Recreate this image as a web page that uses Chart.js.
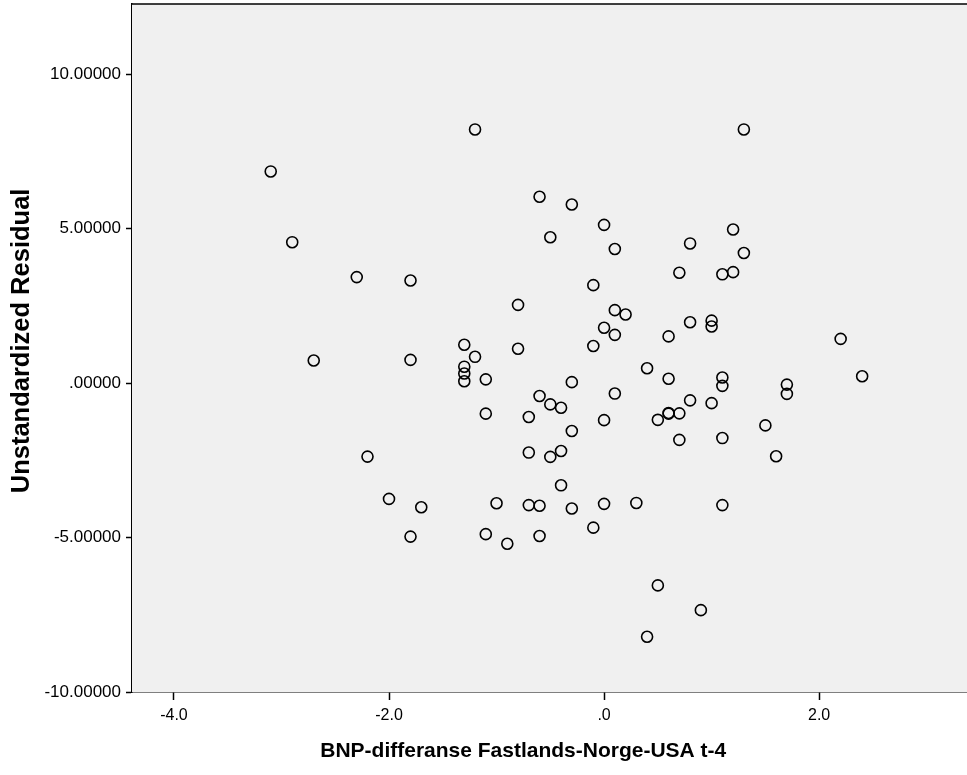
<!DOCTYPE html>
<html>
<head>
<meta charset="utf-8">
<script src="https://cdn.jsdelivr.net/npm/chart.js@4/dist/chart.umd.min.js"></script>
<style>
  html, body { margin: 0; padding: 0; background: #fff; overflow: hidden; }
  #wrap { width: 967px; height: 775px; }
</style>
</head>
<body>
<div id="wrap"><canvas id="scatter"></canvas></div>
<script>
// BNP-differanse (x) vs residual (y)
const xValues = [
    -3.1, -2.9, -2.3, -1.8, -2.7, -1.8, -2.2, -2.0, -1.7, -1.8,
    -1.2, -1.3, -1.2, -1.3, -1.3, -1.3, -1.1, -1.1, -1.1, -1.0,
    -0.9, -0.8, -0.8, -0.7, -0.7, -0.7, -0.6, -0.6, -0.6, -0.6,
    -0.5, -0.5, -0.5, -0.4, -0.4, -0.4, -0.3, -0.3, -0.3, -0.3,
    -0.1, -0.1, -0.1, 0.0, 0.0, 0.0, 0.0, 0.1, 0.1, 0.1,
    0.1, 0.2, 0.3, 0.4, 0.4, 0.5, 0.5, 0.6, 0.6, 0.6,
    0.6, 0.7, 0.7, 0.7, 0.8, 0.8, 0.8, 0.9, 1.0, 1.0,
    1.0, 1.1, 1.1, 1.1, 1.1, 1.1, 1.2, 1.2, 1.3, 1.3,
    1.5, 1.6, 1.7, 1.7, 2.2, 2.4
];
const residuals = [
    6.85, 4.56, 3.43, 3.32, 0.73, 0.75, -2.38, -3.75, -4.02, -4.97,
    8.21, 1.24, 0.85, 0.53, 0.31, 0.06, 0.12, -0.99, -4.89, -3.89,
    -5.20, 2.53, 1.11, -1.10, -2.25, -3.95, 6.03, -0.42, -3.97, -4.95,
    4.72, -0.69, -2.39, -0.80, -2.20, -3.31, 5.78, 0.03, -1.55, -4.06,
    3.17, 1.20, -4.68, 5.12, 1.79, -1.20, -3.91, 4.34, 2.36, 1.56,
    -0.34, 2.22, -3.88, 0.48, -8.21, -1.19, -6.55, 1.51, 0.14, -0.99,
    -0.97, 3.57, -0.98, -1.84, 4.52, 1.97, -0.56, -7.35, 2.02, 1.83,
    -0.65, 3.52, 0.18, -0.09, -1.78, -3.95, 4.97, 3.59, 8.21, 4.21,
    -1.37, -2.37, -0.05, -0.35, 1.43, 0.22
];

const xTicks = [-4, -2, 0, 2];
const xTickLabels = ['-4.0', '-2.0', '.0', '2.0'];
const yTicks = [-10, -5, 0, 5, 10];
const yTickLabels = ['-10.00000', '-5.00000', '.00000', '5.00000', '10.00000'];

const xTitle = 'BNP-differanse Fastlands-Norge-USA t-4';
const yTitle = 'Unstandardized Residual';

const points = xValues.map((x, i) => ({ x: x, y: residuals[i] }));

// grey plot area + top frame line
const plotFrame = {
    id: 'plotFrame',
    beforeDatasetsDraw(chart) {
        const { ctx, chartArea: a } = chart;
        ctx.save();
        ctx.fillStyle = '#f0f0f0';
        ctx.fillRect(a.left, a.top, a.right - a.left, a.bottom - a.top);
        ctx.strokeStyle = '#000';
        ctx.lineWidth = 1.5;
        ctx.beginPath();
        ctx.moveTo(a.left, a.top);
        ctx.lineTo(a.right, a.top);
        ctx.stroke();
        ctx.restore();
    }
};

// the titles in the picture sit a bit off the plot centre
const xTitleShift = '\u00a0'.repeat(9);
const yTitleShift = '\u00a0'.repeat(2);

document.addEventListener('DOMContentLoaded', () => {
    const ctx = document.getElementById('scatter')?.getContext('2d');

    if (!ctx) return;

    const data = {
        datasets: [{
            label: 'Residual',
            data: points,
            pointStyle: 'circle',
            pointRadius: 5.5,
            pointBorderWidth: 1.6,
            borderColor: '#000',
            backgroundColor: 'rgba(0,0,0,0)'
        }]
    };

    const config = {
        type: 'scatter',
        data: data,
        plugins: [plotFrame],
        options: {
            responsive: true,
            maintainAspectRatio: false,
            animation: false,
            layout: { autoPadding: false, padding: { top: 4, right: 0, left: 0, bottom: 0 } },
            plugins: {
                legend: { display: false },
                tooltip: { enabled: false }
            },
            scales: {
                x: {
                    type: 'linear',
                    min: -4.39,
                    max: 3.375,
                    afterBuildTicks: (scale) => {
                        scale.ticks = xTicks.map(v => ({ value: v }));
                    },
                    afterFit: (scale) => {
                        scale.height = 83;
                        scale.paddingLeft = 0;
                        scale.paddingRight = 0;
                    },
                    ticks: {
                        color: '#000',
                        padding: 6,
                        maxRotation: 0,
                        font: { family: 'Liberation Sans, Arial, sans-serif', size: 16 },
                        callback: (v) => xTickLabels[xTicks.indexOf(v)]
                    },
                    grid: {
                        drawOnChartArea: false,
                        drawTicks: true,
                        tickLength: 8,
                        tickColor: '#000',
                        tickWidth: 1.5
                    },
                    border: { display: true, color: '#000', width: 1.5 },
                    title: {
                        display: true,
                        text: xTitle + xTitleShift,
                        color: '#000',
                        padding: { top: 0, bottom: 11 },
                        font: { family: 'Liberation Sans, Arial, sans-serif', size: 21, weight: 'bold' }
                    }
                },
                y: {
                    type: 'linear',
                    min: -10,
                    max: 12.27,
                    afterBuildTicks: (scale) => {
                        scale.ticks = yTicks.map(v => ({ value: v }));
                    },
                    afterFit: (scale) => {
                        scale.width = 132;
                        scale.paddingTop = 0;
                        scale.paddingBottom = 0;
                    },
                    ticks: {
                        color: '#000',
                        padding: 5,
                        font: { family: 'Liberation Sans, Arial, sans-serif', size: 17 },
                        callback: (v) => yTickLabels[yTicks.indexOf(v)]
                    },
                    grid: {
                        drawOnChartArea: false,
                        drawTicks: true,
                        tickLength: 6,
                        tickColor: '#000',
                        tickWidth: 1.5
                    },
                    border: { display: true, color: '#000', width: 1.5 },
                    title: {
                        display: true,
                        text: yTitleShift + yTitle,
                        color: '#000',
                        padding: { top: 7, bottom: 0 },
                        font: { family: 'Liberation Sans, Arial, sans-serif', size: 25.5, weight: 'bold' }
                    }
                }
            }
        }
    };

    new Chart(ctx, config);
});
</script>
</body>
</html>
